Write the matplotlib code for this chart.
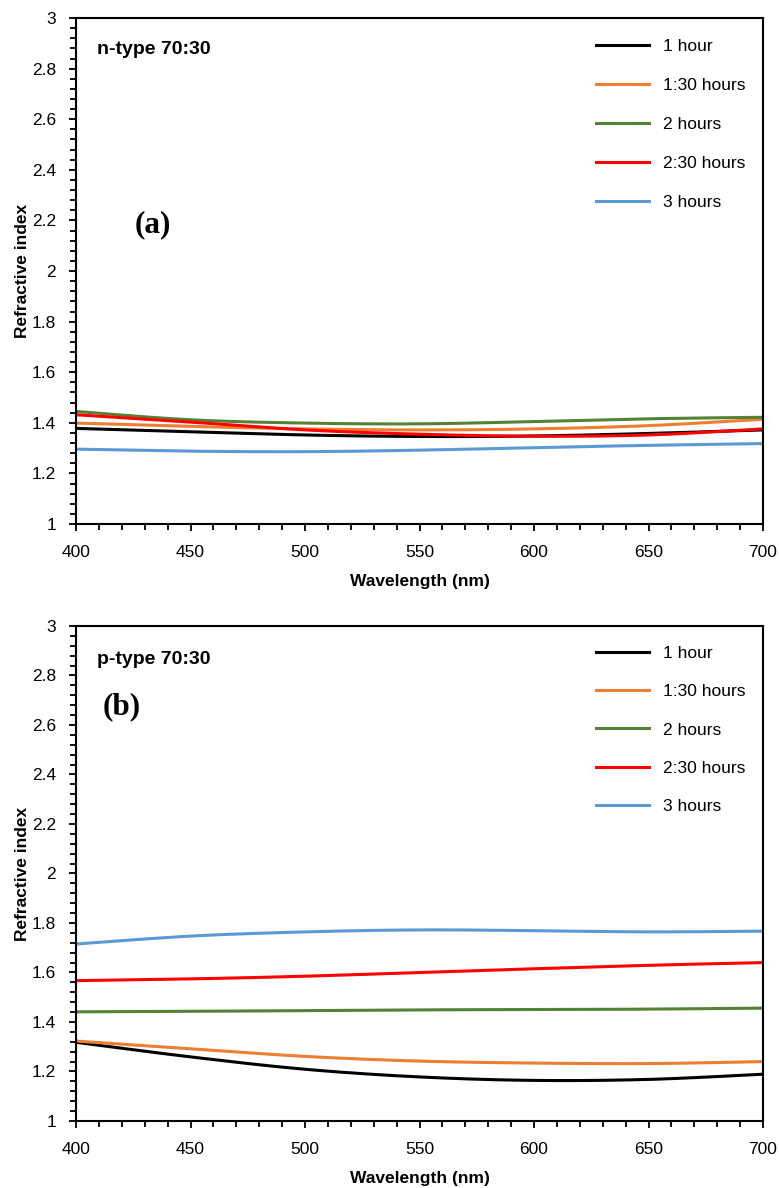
import numpy as np
import matplotlib.pyplot as plt
from matplotlib.ticker import MultipleLocator

# longitudes de onda (nm)
wl = [400, 450, 500, 550, 600, 650, 700]

labels = ["1 hour", "1:30 hours", "2 hours", "2:30 hours", "3 hours"]
colors = ["#000000", "#ED7D31", "#548235", "#FF0000", "#5B9BD5"]
ytick_labels = ["1", "1.2", "1.4", "1.6", "1.8", "2", "2.2", "2.4", "2.6", "2.8", "3"]

# (a) n-type 70:30
n_1h = [1.378, 1.365, 1.352, 1.346, 1.348, 1.358, 1.372]
n_130h = [1.399, 1.386, 1.376, 1.372, 1.376, 1.389, 1.414]
n_2h = [1.445, 1.412, 1.399, 1.396, 1.405, 1.416, 1.422]
n_230h = [1.432, 1.403, 1.372, 1.355, 1.347, 1.352, 1.376]
n_3h = [1.296, 1.288, 1.286, 1.292, 1.302, 1.311, 1.318]

# (b) p-type 70:30
p_1h = [1.318, 1.259, 1.209, 1.178, 1.164, 1.168, 1.189]
p_130h = [1.323, 1.292, 1.261, 1.242, 1.234, 1.232, 1.240]
p_2h = [1.441, 1.443, 1.446, 1.449, 1.450, 1.452, 1.456]
p_230h = [1.567, 1.574, 1.585, 1.600, 1.615, 1.629, 1.640]
p_3h = [1.715, 1.747, 1.764, 1.772, 1.769, 1.764, 1.767]

plt.rcParams['font.family'] = ['Liberation Sans', 'DejaVu Sans']

fig = plt.figure(figsize=(7.79, 11.88), dpi=100)
ax1 = fig.add_axes([0.0976, 0.5589, 0.8819, 0.4259])
ax2 = fig.add_axes([0.0976, 0.0564, 0.8819, 0.4167])


def smooth(x, y, n=40):
    # línea suavizada como en Excel (Catmull-Rom -> Bezier)
    p = np.column_stack([x, y]).astype(float)
    p = np.vstack([p[0], p, p[-1]])
    t = np.linspace(0, 1, n)[:, None]
    out = []
    for i in range(1, len(p) - 2):
        p0, p1, p2, p3 = p[i - 1], p[i], p[i + 1], p[i + 2]
        c1 = p1 + (p2 - p0) / 6
        c2 = p2 - (p3 - p1) / 6
        seg = ((1 - t) ** 3) * p1 + 3 * ((1 - t) ** 2) * t * c1 + 3 * (1 - t) * t ** 2 * c2 + t ** 3 * p2
        out.append(seg)
    out = np.vstack(out)
    return out[:, 0], out[:, 1]


def panel(ax, series, tag, tag_y, letter, letter_pos, leg_y, leg_sp):
    for y, lab, col in zip(series, labels, colors):
        xs, ys = smooth(wl, y)
        ax.plot(xs, ys, color=col, lw=2.2, label=lab)
    ax.set_xlim(400, 700)
    ax.set_ylim(1, 3)
    ax.xaxis.set_major_locator(MultipleLocator(50))
    ax.xaxis.set_minor_locator(MultipleLocator(10))
    ax.set_yticks(np.arange(1, 3.01, 0.2))
    ax.set_yticklabels(ytick_labels)
    ax.yaxis.set_minor_locator(MultipleLocator(0.04))
    ax.tick_params(which='both', direction='out', width=1.3, labelsize=12.5)
    ax.tick_params(which='major', length=5)
    ax.tick_params(which='minor', length=4)
    ax.tick_params(axis='x', which='major', pad=10)
    ax.tick_params(axis='y', which='major', pad=9.5)
    for s in ax.spines.values():
        s.set_linewidth(1.5)
    ax.set_xlabel('Wavelength (nm)', fontsize=12.5, fontweight='bold', labelpad=10)
    ax.set_ylabel('Refractive index', fontsize=12.5, fontweight='bold', labelpad=1)
    ax.text(0.031, tag_y, tag, transform=ax.transAxes, fontsize=14, fontweight='bold',
            ha='left', va='center')
    ax.text(letter_pos[0], letter_pos[1], letter, transform=ax.transAxes,
            fontsize=22.5, fontweight='bold', family='Liberation Serif', ha='left', va='center')
    ax.legend(loc='upper left', bbox_to_anchor=(0.757, leg_y), frameon=False,
              fontsize=12.5, handlelength=3.05, handletextpad=0.8, labelspacing=leg_sp,
              borderpad=0, borderaxespad=0)


panel(ax1, [n_1h, n_130h, n_2h, n_230h, n_3h], 'n-type 70:30', 0.937, '(a)', (0.086, 0.591),
      0.959, 1.37)
panel(ax2, [p_1h, p_130h, p_2h, p_230h, p_3h], 'p-type 70:30', 0.933, '(b)', (0.039, 0.836),
      0.959, 1.32)

fig.savefig('out.png', dpi=100)
